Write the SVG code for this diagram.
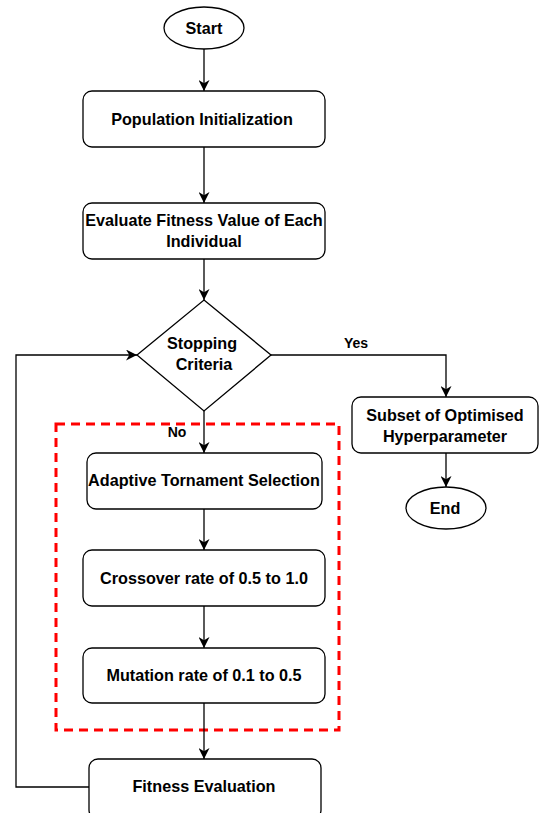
<svg xmlns="http://www.w3.org/2000/svg" width="539" height="813" viewBox="0 0 539 813">
  <style>
    .box { fill: #ffffff; stroke: #000000; stroke-width: 1.3; }
    .lbl { font-family: "Liberation Sans", Arial, sans-serif; font-weight: bold; font-size: 16.2px; fill: #000000; text-anchor: middle; dominant-baseline: central; }
    .small { font-size: 14px; }
    .edge { fill: none; stroke: #000000; stroke-width: 1.3; marker-end: url(#arrow); }
    .group { fill: none; stroke: #ff0000; stroke-width: 3; stroke-dasharray: 9 6; }
  </style>
  <defs>
    <marker id="arrow" viewBox="0 0 10 10" refX="10" refY="5" markerWidth="11" markerHeight="11" markerUnits="userSpaceOnUse" orient="auto">
      <path d="M0,0 L10,5 L0,10 L3,5 Z" fill="#000000"/>
    </marker>
  </defs>
  <rect width="539" height="813" fill="#ffffff"/>

  <!-- GA operator group -->
  <rect id="operators" class="group" x="56" y="424" width="283" height="306"/>

  <g id="connectors">
    <path class="edge" d="M204,49 V91"/>
    <path class="edge" d="M204,147 V203"/>
    <path class="edge" d="M204,259 V300"/>
    <path class="edge" d="M204,411 V453"/>
    <path class="edge" d="M204,509 V550"/>
    <path class="edge" d="M204,606 V648"/>
    <path class="edge" d="M204,703 V759"/>
    <path class="edge" d="M271,355 H446 V397"/>
    <path class="edge" d="M446,453 V487"/>
    <path class="edge" d="M89,787 H16 V355 H137"/>
    <text class="lbl small" x="356" y="343">Yes</text>
    <text class="lbl small" x="177" y="432">No</text>
  </g>

  <g id="start">
    <ellipse class="box" cx="204" cy="28" rx="40" ry="21"/>
    <text class="lbl" x="204" y="28">Start</text>
  </g>

  <g id="population-init">
    <rect class="box" x="83" y="91" width="242" height="56" rx="9"/>
    <text class="lbl" x="202" y="119">Population Initialization</text>
  </g>

  <g id="evaluate-fitness">
    <rect class="box" x="83" y="203" width="242" height="56" rx="9"/>
    <text class="lbl" x="204" y="220">Evaluate Fitness Value of Each</text>
    <text class="lbl" x="204" y="241">Individual</text>
  </g>

  <g id="stopping-criteria">
    <polygon class="box" points="204,300 271,355 204,411 137,355"/>
    <text class="lbl" x="202" y="343">Stopping</text>
    <text class="lbl" x="204" y="364">Criteria</text>
  </g>

  <g id="optimised-subset">
    <rect class="box" x="352" y="397" width="186" height="56" rx="9"/>
    <text class="lbl" x="445" y="415">Subset of Optimised</text>
    <text class="lbl" x="445" y="436">Hyperparameter</text>
  </g>

  <g id="end">
    <ellipse class="box" cx="446" cy="508" rx="40" ry="21"/>
    <text class="lbl" x="445" y="508">End</text>
  </g>

  <g id="tournament-selection">
    <rect class="box" x="87" y="453" width="235" height="56" rx="9"/>
    <text class="lbl" x="204" y="480">Adaptive Tornament Selection</text>
  </g>

  <g id="crossover">
    <rect class="box" x="83" y="550" width="242" height="56" rx="9"/>
    <text class="lbl" x="204" y="578">Crossover rate of 0.5 to 1.0</text>
  </g>

  <g id="mutation">
    <rect class="box" x="83" y="648" width="242" height="55" rx="9"/>
    <text class="lbl" x="204" y="675">Mutation rate of 0.1 to 0.5</text>
  </g>

  <g id="fitness-evaluation">
    <rect class="box" x="89" y="759" width="232" height="60" rx="9"/>
    <text class="lbl" x="204" y="786">Fitness Evaluation</text>
  </g>
</svg>
